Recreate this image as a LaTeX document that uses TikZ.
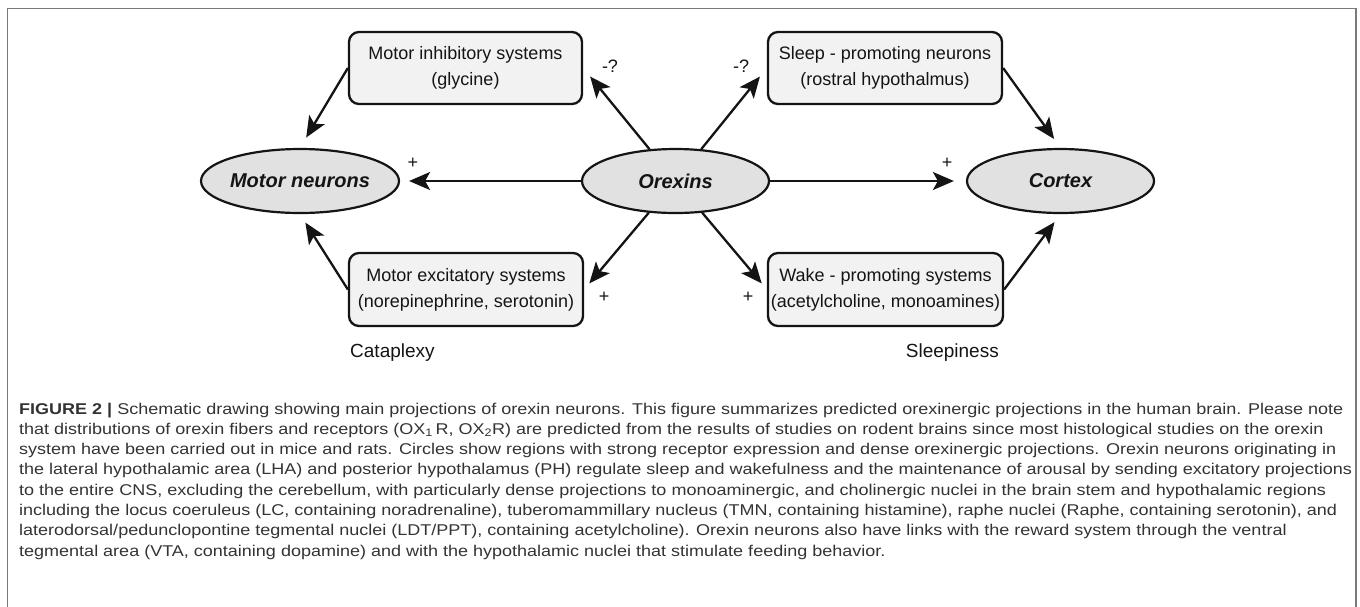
\documentclass[tikz,border=0pt]{standalone}
\usepackage{fontspec}
\setmainfont{Liberation Sans}
\newfontfamily\capfont[FakeStretch=1.154]{Liberation Sans}
\usetikzlibrary{shapes.geometric,arrows.meta}
\definecolor{boxfill}{HTML}{F2F2F2}
\definecolor{ellfill}{HTML}{E1E1E1}
\definecolor{ink}{HTML}{141414}
\definecolor{framecol}{HTML}{7A7A7A}
\definecolor{captxt}{HTML}{333333}
\begin{document}
\begin{tikzpicture}[x=1pt,y=-1pt,
  sysbox/.style={draw=ink, line width=2.3pt, fill=boxfill, rounded corners=10pt,
    minimum width=233pt, minimum height=72pt, align=center, inner sep=0pt,
    font=\fontsize{18}{26}\selectfont, text=ink},
  region/.style={ellipse, draw=ink, line width=2.2pt, fill=ellfill,
    minimum width=187pt, minimum height=64pt, inner sep=0pt, text=ink,
    font=\fontsize{20}{24}\selectfont\bfseries\itshape},
  proj/.style={draw=ink, line width=2.3pt, -{Stealth[length=21pt,width=18pt,inset=5pt]}, shorten >=11pt},
  sign/.style={font=\fontsize{18}{20}\selectfont, text=ink, inner sep=0pt},
  outcome/.style={font=\fontsize{19}{22}\selectfont, text=ink, inner sep=0pt},
  caprow/.style={anchor=base west, inner sep=0pt, font=\capfont\fontsize{15.6}{18}\selectfont, text=captxt}
]
\useasboundingbox (0,0) rectangle (1360,606);
\draw[framecol, line width=1.5pt] (7.5,610) -- (7.5,8.5) -- (1356,8.5) -- (1356,610);

% nodes
\node[sysbox] (mi) at (465.5,68) {Motor inhibitory systems\\(glycine)};
\node[sysbox, minimum width=234pt] (sp) at (885,68) {Sleep - promoting neurons\\(rostral hypothalmus)};
\node[sysbox, minimum height=73pt, minimum width=234pt] (me) at (466,289.5) {Motor excitatory systems\\(norepinephrine, serotonin)};
\node[sysbox, minimum height=73pt, minimum width=235pt] (wp) at (885.5,289.5) {Wake - promoting systems\\(acetylcholine, monoamines)};
\node[region, minimum width=188pt] (mn) at (300,181) {Motor neurons};
\node[region] (ox) at (675.5,181) {Orexins};
\node[region] (cx) at (1060.5,181) {Cortex};

% connectors
\draw[proj, shorten >=12pt] (mi.west) -- (mn.north);
\draw[proj, shorten >=10pt] (me.west) -- (mn.south);
\draw[proj] (ox) -- (mi.east);
\draw[proj] (ox) -- (sp.west);
\draw[proj, shorten >=8pt] (ox) -- (me.east);
\draw[proj, shorten >=8pt] (ox) -- (wp.west);
\draw[proj, shorten >=9pt] (ox.west) -- (mn.east);
\draw[proj, shorten >=12pt] (ox.east) -- (cx.west);
\draw[proj] (sp.east) -- (cx.north);
\draw[proj, shorten >=10pt] (wp.east) -- (cx.south);

% signs
\node[sign] (s1) at (413,163) {+};
\node[sign] (s2) at (947,163) {+};
\node[sign] (s3) at (610,66) {-?};
\node[sign] (s4) at (741,66) {-?};
\node[sign] (s5) at (604,297) {+};
\node[sign] (s6) at (748,297) {+};

\node[outcome, anchor=base west] (cat) at (350,357) {Cataplexy};
\node[outcome, anchor=base east] (slp) at (999,357) {Sleepiness};

% caption
\node[caprow] (c1) at (19,414) {{\bfseries FIGURE 2 |} Schematic drawing showing main projections of orexin neurons. This figure summarizes predicted orexinergic projections in the human brain. Please note};
\node[caprow] (c2) at (19,434.3) {that distributions of orexin fibers and receptors (OX\textsubscript{1}\,R, OX\textsubscript{2}R) are predicted from the results of studies on rodent brains since most histological studies on the orexin};
\node[caprow] (c3) at (19,454.6) {system have been carried out in mice and rats. Circles show regions with strong receptor expression and dense orexinergic projections. Orexin neurons originating in};
\node[caprow] (c4) at (19,474.9) {the lateral hypothalamic area (LHA) and posterior hypothalamus (PH) regulate sleep and wakefulness and the maintenance of arousal by sending excitatory projections};
\node[caprow] (c5) at (19,495.2) {to the entire CNS, excluding the cerebellum, with particularly dense projections to monoaminergic, and cholinergic nuclei in the brain stem and hypothalamic regions};
\node[caprow] (c6) at (19,515.5) {including the locus coeruleus (LC, containing noradrenaline), tuberomammillary nucleus (TMN, containing histamine), raphe nuclei (Raphe, containing serotonin), and};
\node[caprow] (c7) at (19,535.8) {laterodorsal/pedunclopontine tegmental nuclei (LDT/PPT), containing acetylcholine). Orexin neurons also have links with the reward system through the ventral};
\node[caprow] (c8) at (19,556.1) {tegmental area (VTA, containing dopamine) and with the hypothalamic nuclei that stimulate feeding behavior.};
\end{tikzpicture}
\end{document}
